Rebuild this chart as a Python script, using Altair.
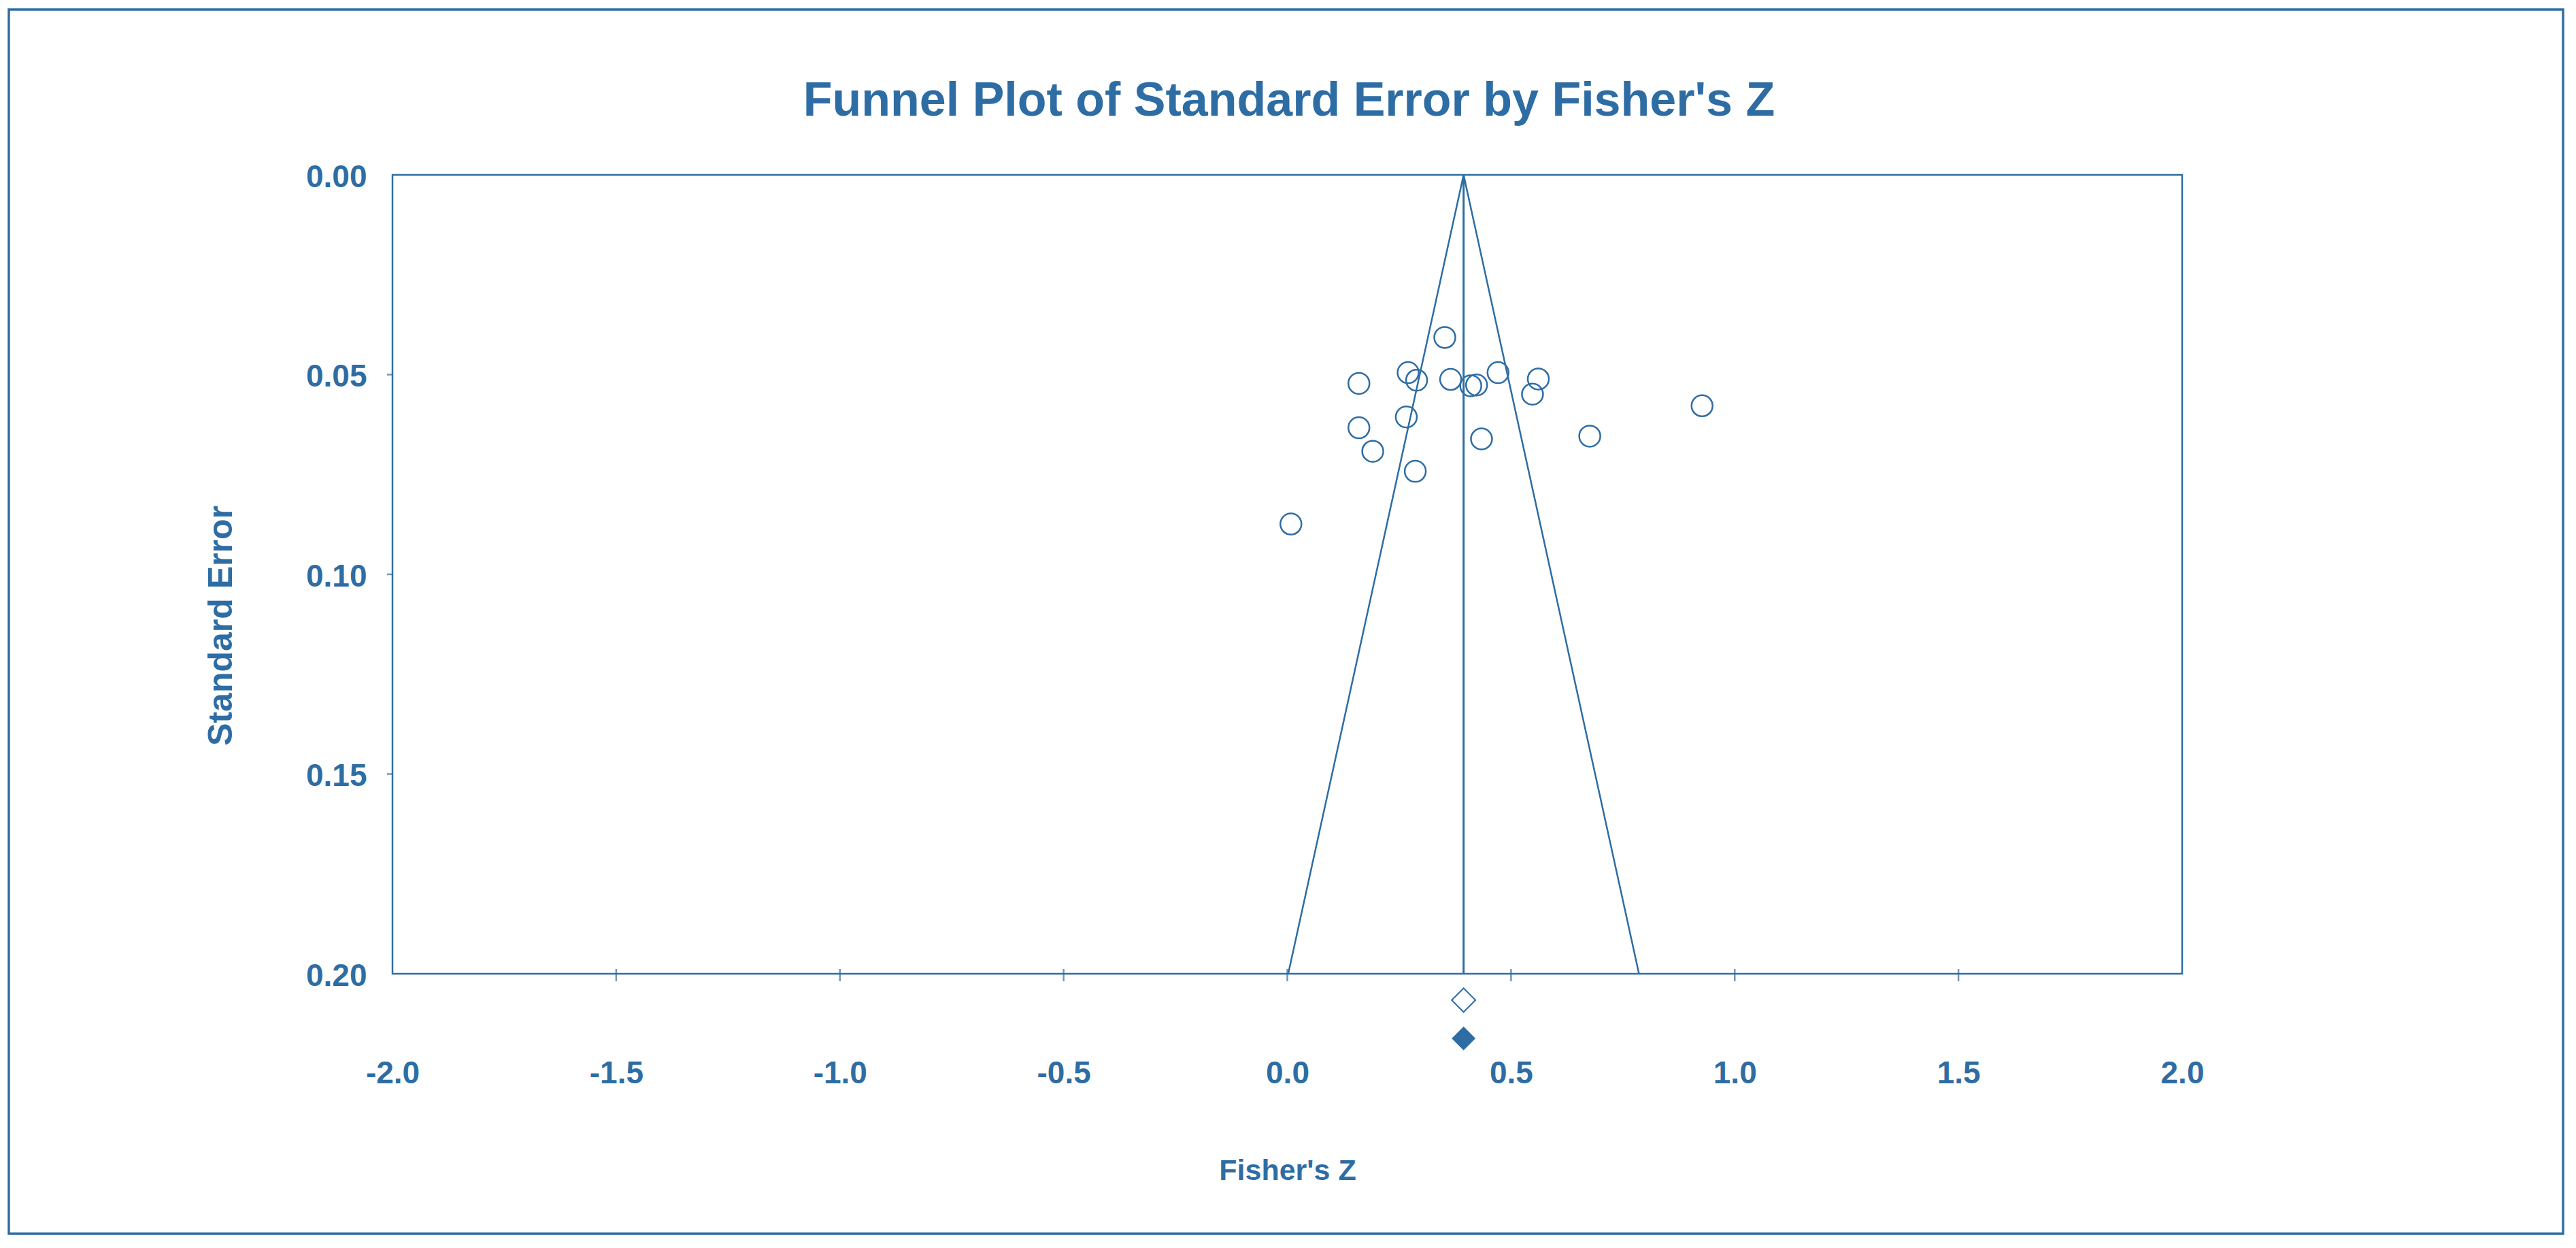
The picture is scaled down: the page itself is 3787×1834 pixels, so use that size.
import altair as alt
import pandas as pd

BLUE = "#2E6DA4"
FONT = "Liberation Sans"

# ---- data ----
fisher_z = [0.352, 0.270, 0.289, 0.160, 0.365, 0.410, 0.423, 0.471, 0.561, 0.548,
            0.266, 0.160, 0.191, 0.434, 0.676, 0.286, 0.008, 0.927]
std_err = [0.0407, 0.0495, 0.0514, 0.0522, 0.0512, 0.0528, 0.0526, 0.0495, 0.0511, 0.0549,
           0.0606, 0.0633, 0.0692, 0.0661, 0.0654, 0.0742, 0.0874, 0.0578]

combined_z = [0.394]
funnel_z = [0.002, 0.394, 0.786]
funnel_se = [0.20, 0.00, 0.20]
funnel_order = [0, 1, 2]

diamond_z = [0.394, 0.394]
diamond_se = [0.2066, 0.2162]
diamond_kind = ["observed", "adjusted"]

x_ticks = [-2.0, -1.5, -1.0, -0.5, 0.0, 0.5, 1.0, 1.5, 2.0]
y_ticks = [0.00, 0.05, 0.10, 0.15, 0.20]
x_tick_marks = [-1.5, -1.0, -0.5, 0.0, 0.5, 1.0, 1.5]
y_tick_marks = [0.05, 0.10, 0.15]

TITLE = "Funnel Plot of Standard Error by Fisher's Z"

# ---- tables ----
pts = pd.DataFrame({"z": fisher_z, "se": std_err})
funnel = pd.DataFrame({"z": funnel_z, "se": funnel_se, "o": funnel_order})
center = pd.DataFrame({"z": combined_z, "se": [0.0], "se2": [0.2]})
diam = pd.DataFrame({"z": diamond_z, "se": diamond_se, "kind": diamond_kind})
xt = pd.DataFrame({"z": x_tick_marks, "se": [0.2] * len(x_tick_marks)})
yt = pd.DataFrame({"z": [-2.0] * len(y_tick_marks), "se": y_tick_marks})

xscale = alt.Scale(domain=[-2, 2], nice=False, zero=False)
yscale = alt.Scale(domain=[0, 0.2], reverse=True, nice=False, zero=False)

xaxis = alt.Axis(
    values=x_ticks,
    labelExpr="datum.value < 0 ? '-' + format(-datum.value, '.1f') : format(datum.value, '.1f')",
    ticks=False, domain=False, grid=False,
    labelPadding=124, labelFontSize=46, labelFont=FONT, labelFontWeight="bold",
    labelColor=BLUE, labelFlush=False, labelOverlap=False,
    title="Fisher's Z", titleFontSize=43, titleFont=FONT, titleFontWeight="bold",
    titleColor=BLUE, titleY=268, titleBaseline="top",
)
yaxis = alt.Axis(
    values=y_ticks, format=".2f",
    ticks=False, domain=False, grid=False,
    labelPadding=38, labelOffset=3, labelFontSize=46, labelFont=FONT, labelFontWeight="bold",
    labelColor=BLUE, labelFlush=False, labelOverlap=False,
    title="Standard Error", titleFontSize=50, titleFont=FONT, titleFontWeight="bold",
    titleColor=BLUE, titleX=-252, titleY=662, titleAngle=270,
    titleAlign="center", titleBaseline="middle",
)


def X(f):
    return alt.X(f, type="quantitative", scale=xscale, axis=xaxis)


def Y(f):
    return alt.Y(f, type="quantitative", scale=yscale, axis=yaxis)


points = alt.Chart(pts).mark_point(
    shape="circle", filled=False, size=961, strokeWidth=2.5, color=BLUE, opacity=1
).encode(x=X("z"), y=Y("se"))

funnel_line = alt.Chart(funnel).mark_line(color=BLUE, strokeWidth=2.5).encode(
    x=X("z"), y=Y("se"), order="o:Q"
)

center_rule = alt.Chart(center).mark_rule(color=BLUE, strokeWidth=3).encode(
    x=X("z"), y=Y("se"), y2="se2"
)

open_d = alt.Chart(diam).transform_filter("datum.kind == 'observed'").mark_point(
    shape="diamond", filled=False, size=1225, strokeWidth=2, color=BLUE, opacity=1
).encode(x=X("z"), y=Y("se"))

fill_d = alt.Chart(diam).transform_filter("datum.kind == 'adjusted'").mark_point(
    shape="diamond", filled=True, size=1225, color=BLUE, opacity=1
).encode(x=X("z"), y=Y("se"))

x_tk = alt.Chart(xt).mark_tick(
    orient="vertical", size=18, thickness=2.5, color=BLUE, yOffset=2
).encode(x=X("z"), y=Y("se"))

y_tk = alt.Chart(yt).mark_tick(
    orient="horizontal", size=8, thickness=2.5, color=BLUE, xOffset=-4
).encode(x=X("z"), y=Y("se"))

one_row = alt.Data(values=[{"t": TITLE}])

border = alt.Chart(one_row).mark_rect(
    filled=False, stroke=BLUE, strokeWidth=3.5
).encode(x=alt.value(-564), x2=alt.value(3191), y=alt.value(-243), y2=alt.value(1556))

title_text = alt.Chart(one_row).mark_text(
    font=FONT, fontSize=70, fontWeight="bold", color=BLUE,
    align="center", baseline="alphabetic",
).encode(x=alt.value(1318), y=alt.value(-87), text="t:N")

chart = alt.layer(
    border, title_text, funnel_line, center_rule, x_tk, y_tk, points, open_d, fill_d
).properties(
    width=2631,
    height=1174,
    autosize=alt.AutoSizeParams(type="none"),
    padding={"left": 569, "top": 249, "right": 571, "bottom": 385},
    background="white",
).configure_view(stroke=BLUE, strokeWidth=2.5)

chart.save("out.html", embed_options={"renderer": "svg", "actions": False})
